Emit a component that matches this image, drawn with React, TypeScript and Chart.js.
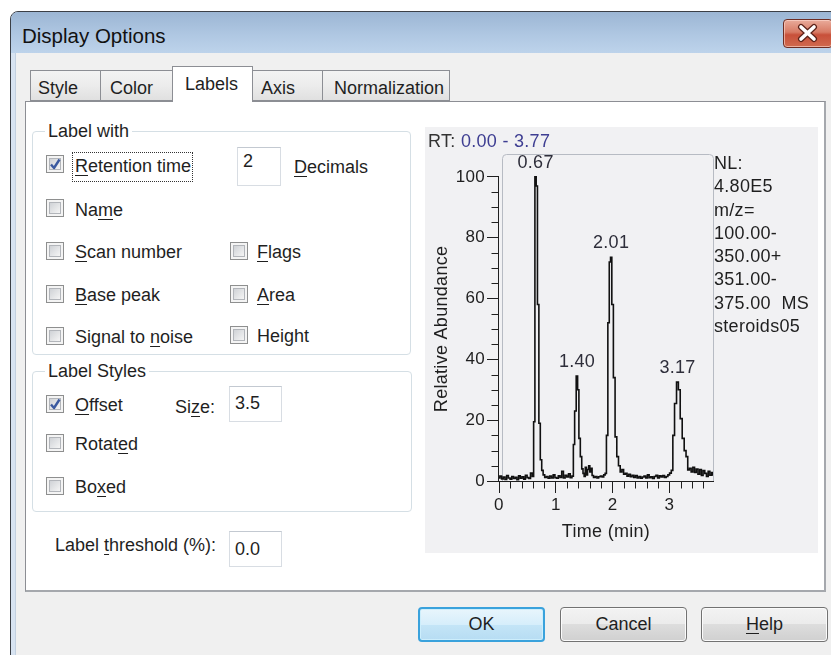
import React, { useEffect, useRef } from 'react';
import { Chart, registerables } from 'chart.js';

Chart.register(...registerables);

// ---------- chromatogram data ----------
const retentionTimes = [
  0.00, 0.03, 0.06, 0.09, 0.12, 0.15, 0.18, 0.21, 0.24, 0.27, 0.30, 0.33, 0.36, 0.39, 0.42, 0.45, 0.48, 0.51, 0.54, 0.57, 0.60,
  0.62, 0.645, 0.665, 0.69, 0.715, 0.74, 0.765, 0.79, 0.82, 0.85, 0.88, 0.91, 0.94, 0.97, 1.00, 1.03, 1.06, 1.09, 1.12, 1.15,
  1.18, 1.21, 1.24, 1.27, 1.30,
  1.32, 1.345, 1.375, 1.395, 1.42, 1.445, 1.47, 1.49, 1.51, 1.53, 1.55, 1.57, 1.59, 1.61, 1.63, 1.65, 1.68, 1.71, 1.74, 1.77,
  1.80, 1.83, 1.86,
  1.88, 1.905, 1.93, 1.955, 1.975, 2.00, 2.03, 2.06, 2.09, 2.12, 2.15, 2.18, 2.21, 2.24, 2.27, 2.30, 2.33, 2.36, 2.39, 2.42,
  2.45, 2.48, 2.51, 2.54, 2.57, 2.60, 2.63, 2.66, 2.69, 2.72, 2.75, 2.78, 2.81, 2.84, 2.87, 2.90, 2.93, 2.96, 2.99, 3.02, 3.05,
  3.075, 3.11, 3.145, 3.175, 3.21, 3.245, 3.28, 3.31, 3.34, 3.37, 3.40, 3.43, 3.46, 3.49, 3.52, 3.55, 3.58, 3.61, 3.64, 3.67,
  3.70, 3.73, 3.76, 3.77,
];
const relativeAbundance = [
  1.0, 1.6, 0.7, 1.3, 0.5, 1.8, 1.0, 0.6, 1.5, 0.8, 1.2, 0.4, 1.7, 0.9, 1.4, 0.6, 1.9, 1.1, 0.8, 2.6, 1.5,
  19.5, 100, 97, 58, 19, 7, 3.5, 2.0, 1.2, 1.5, 0.9, 1.6, 1.0, 2.0, 1.1, 0.9, 1.7, 1.2, 3.2, 1.0,
  1.9, 1.3, 2.4, 1.1, 1.6,
  12, 23, 34.5, 30, 14, 8, 4, 2.5, 1.5, 4.5, 2.0, 3.8, 5.0, 3.0, 4.2, 1.8, 1.2, 1.5, 1.0, 1.4,
  1.6, 1.3, 2.0,
  2.5, 15, 52, 72, 73.5, 58, 34, 14.5, 8, 5, 3, 3.8, 2.2, 2.5, 1.6, 2.2, 1.4, 1.9, 1.2, 1.8,
  1.0, 1.5, 0.9, 1.3, 1.6, 1.0, 2.0, 1.1, 1.4, 0.8, 1.5, 1.9, 1.0, 1.7, 1.3, 1.8, 1.2, 1.5, 2.0, 2.6, 3.5,
  15, 25.5, 32.5, 30, 20.5, 14, 10, 8, 3.6, 4.2, 3.0, 4.5, 2.8, 3.9, 2.2, 3.8, 1.8, 3.4, 2.5, 1.5,
  3.2, 1.9, 2.8, 2.0,
];

const peakApexTimes = [0.645, 1.375, 1.975, 3.145];
const peakApexHeights = [100, 34.5, 73.5, 32.5];
const peakLabels = ['0.67', '1.40', '2.01', '3.17'];

const xMajorTicks = [0, 1, 2, 3];
const xMinorTicks = [0.2, 0.4, 0.6, 0.8, 1.2, 1.4, 1.6, 1.8, 2.2, 2.4, 2.6, 2.8, 3.2, 3.4, 3.6];
const yMajorTicks = [0, 20, 40, 60, 80, 100];
const yMinorTicks = [5, 10, 15, 25, 30, 35, 45, 50, 55, 65, 70, 75, 85, 90, 95];

const rtPrefix = 'RT: ';
const rtRange = '0.00 - 3.77';
const infoLines = ['NL:', '4.80E5', 'm/z=', '100.00-', '350.00+', '351.00-', '375.00  MS', 'steroids05'];
const yTitle = 'Relative Abundance';
const xTitle = 'Time (min)';

const FONT = '"Liberation Sans", Arial, sans-serif';
const INK = '#1f1f1f';

const decorPlugin = {
  id: 'chromDecor',
  beforeDraw(chart: any) {
    try {
      (chart.ctx as any).letterSpacing = '0.3px';
    } catch (e) {
      /* ignore */
    }
  },
  beforeDatasetsDraw(chart: any) {
    const { ctx, chartArea: ca } = chart;
    ctx.save();
    ctx.strokeStyle = '#b7bbc3';
    ctx.lineWidth = 1;
    const l = Math.round(ca.left) + 3.5;
    const t = Math.round(ca.top) + 0.5;
    const r = Math.round(ca.right) + 0.5;
    const b = ca.bottom;
    const rad = 4;
    ctx.beginPath();
    ctx.moveTo(l, b);
    ctx.lineTo(l, t + rad);
    ctx.quadraticCurveTo(l, t, l + rad, t);
    ctx.lineTo(r - rad, t);
    ctx.quadraticCurveTo(r, t, r, t + rad);
    ctx.lineTo(r, b);
    ctx.stroke();
    ctx.restore();
  },
  afterDraw(chart: any) {
    const { ctx, chartArea: ca } = chart;
    const xs = chart.scales.x;
    const ys = chart.scales.y;
    ctx.save();
    ctx.strokeStyle = INK;
    ctx.lineWidth = 1;
    // y axis line (0 .. last major)
    const ax = Math.round(ca.left) - 0.5;
    ctx.beginPath();
    ctx.moveTo(ax, Math.round(ys.getPixelForValue(0)) + 0.5);
    ctx.lineTo(ax, Math.round(ys.getPixelForValue(yMajorTicks[yMajorTicks.length - 1])) - 0.5);
    ctx.stroke();
    // minor ticks
    ctx.beginPath();
    yMinorTicks.forEach((v) => {
      const py = Math.round(ys.getPixelForValue(v)) + 0.5;
      ctx.moveTo(ax - 7, py);
      ctx.lineTo(ax, py);
    });
    const by = Math.round(ca.bottom) + 0.5;
    xMinorTicks.forEach((v) => {
      const px = Math.round(xs.getPixelForValue(v)) + 0.5;
      ctx.moveTo(px, by);
      ctx.lineTo(px, by + 7);
    });
    ctx.stroke();

    // peak labels
    ctx.font = `18px ${FONT}`;
    ctx.fillStyle = '#2e2e3a';
    ctx.textAlign = 'center';
    ctx.textBaseline = 'middle';
    peakLabels.forEach((lab, i) => {
      ctx.fillText(lab, xs.getPixelForValue(peakApexTimes[i]), ys.getPixelForValue(peakApexHeights[i]) - 14);
    });

    // RT header
    ctx.textAlign = 'left';
    ctx.fillStyle = '#333';
    ctx.fillText(rtPrefix, 3, 15);
    const w = ctx.measureText(rtPrefix).width;
    ctx.fillStyle = '#3e3e92';
    ctx.fillText(rtRange, 3 + w, 15);

    // info lines
    ctx.fillStyle = INK;
    infoLines.forEach((line, i) => {
      ctx.fillText(line, ca.right + 1, ca.top + 10 + i * 23.3);
    });

    // y title
    ctx.translate(17, ys.getPixelForValue(50));
    ctx.rotate(-Math.PI / 2);
    ctx.textAlign = 'center';
    ctx.fillText(yTitle, 0, 0);
    ctx.restore();
  },
};

function Chromatogram() {
  const ref = useRef<HTMLCanvasElement | null>(null);
  useEffect(() => {
    if (!ref.current) return;
    const tickFont = { family: FONT, size: 17 };
    const titleFont = { family: FONT, size: 18 };
    const chart = new Chart(ref.current, {
      type: 'line',
      data: {
        datasets: [
          {
            data: retentionTimes.map((t, i) => ({ x: t, y: relativeAbundance[i] })),
            borderColor: '#111',
            borderWidth: 1.6,
            pointRadius: 0,
            fill: false,
            stepped: 'middle',
          } as any,
        ],
      },
      options: {
        animation: false,
        responsive: false,
        events: [],
        layout: { padding: { top: 27, right: 105, bottom: 0, left: 0 } },
        plugins: { legend: { display: false }, tooltip: { enabled: false }, title: { display: false } },
        scales: {
          x: {
            type: 'linear',
            min: 0,
            max: 3.77,
            afterBuildTicks: (s: any) => {
              s.ticks = xMajorTicks.map((v) => ({ value: v }));
            },
            afterFit: (s: any) => {
              s.height = 72;
            },
            grid: { drawOnChartArea: false, drawTicks: true, tickLength: 12, color: INK },
            border: { display: true, color: INK, width: 1 },
            ticks: { font: tickFont, color: INK, padding: 2, maxRotation: 0, autoSkip: false, callback: (v: any) => String(v) },
            title: { display: true, text: xTitle, font: titleFont, color: INK, padding: { top: 0, bottom: 10 } },
          },
          y: {
            type: 'linear',
            min: 0,
            max: 107.5,
            afterBuildTicks: (s: any) => {
              s.ticks = yMajorTicks.map((v) => ({ value: v }));
            },
            afterFit: (s: any) => {
              s.width = 74;
            },
            grid: { drawOnChartArea: false, drawTicks: true, tickLength: 12, color: INK },
            border: { display: false },
            ticks: { font: tickFont, color: INK, padding: 2, autoSkip: false, callback: (v: any) => String(v) },
            title: { display: false },
          },
        },
      } as any,
      plugins: [decorPlugin],
    });
    return () => chart.destroy();
  }, []);
  return <canvas ref={ref} width={393} height={426} style={{ display: 'block', width: 393, height: 426 }} />;
}

// ---------- dialog chrome ----------
const abs = (o: any) => ({ position: 'absolute', ...o }) as React.CSSProperties;

function U({ children }: { children: React.ReactNode }) {
  return <u style={{ textDecorationThickness: '1px', textUnderlineOffset: '3px' }}>{children}</u>;
}

function Txt({ x, yc, children, size = 18 }: any) {
  return (
    <div style={abs({ left: x, top: yc - 11, height: 22, lineHeight: '22px', fontSize: size, whiteSpace: 'nowrap' })}>
      {children}
    </div>
  );
}

function Check({ x, yc, checked }: any) {
  return (
    <div
      style={abs({
        left: x,
        top: yc - 10,
        width: 18,
        height: 18,
        border: '1px solid #8e8f8f',
        boxSizing: 'border-box',
        background: '#f4f4f4',
      })}
    >
      <div
        style={abs({
          left: 2,
          top: 2,
          width: 12,
          height: 12,
          border: '1px solid #b2b5ba',
          background: 'linear-gradient(135deg,#cfd2d6,#f5f5f5)',
          boxSizing: 'border-box',
        })}
      />
      {checked && (
        <svg width={16} height={16} style={abs({ left: 0, top: 0 })}>
          <path d="M4 8.5 L7 12 L12.5 3.5" stroke="#3b5aa0" strokeWidth={2.4} fill="none" strokeLinejoin="round" />
        </svg>
      )}
    </div>
  );
}

function Edit({ x, y, w, h, text, ty }: any) {
  return (
    <div
      style={abs({
        left: x,
        top: y,
        width: w,
        height: h,
        boxSizing: 'border-box',
        border: '1px solid #d8dde3',
        borderTopColor: '#c3c9d1',
        background: '#fff',
      })}
    >
      <div style={abs({ left: 5, top: ty, fontSize: 18, lineHeight: '22px' })}>{text}</div>
    </div>
  );
}

function Button({ x, label, primary }: any) {
  return (
    <div
      style={abs({
        left: x,
        top: 607,
        width: 127,
        height: 35,
        boxSizing: 'border-box',
        borderRadius: 4,
        border: primary ? '2px solid #3aa2dc' : '1px solid #727272',
        background: primary
          ? 'linear-gradient(#e8f5fc, #d6eefb 50%, #c4e5f7 50%, #b7ddf3)'
          : 'linear-gradient(#f3f3f3, #ebebeb 50%, #dddddd 50%, #d0d0d0)',
        boxShadow: primary ? 'inset 0 0 0 1px #cdeefc' : 'inset 0 0 0 1px #fbfbfb',
        textAlign: 'center',
        lineHeight: primary ? '31px' : '33px',
        fontSize: 18,
      })}
    >
      {label}
    </div>
  );
}

function Tab({ x, w, label, tx, selected }: any) {
  return (
    <div
      style={abs({
        left: x,
        top: selected ? 66 : 70,
        width: w,
        height: selected ? 36 : 31,
        boxSizing: 'border-box',
        border: '1px solid #8c8e94',
        borderBottom: selected ? 'none' : '1px solid #8c8e94',
        background: selected ? '#ffffff' : 'linear-gradient(#f3f3f3, #ececec 50%, #e0e0e0)',
        zIndex: selected ? 3 : 1,
      })}
    >
      <div style={abs({ left: tx, top: 6, fontSize: 18, lineHeight: '22px', whiteSpace: 'nowrap' })}>{label}</div>
    </div>
  );
}

function Group({ x, y, w, h, title }: any) {
  return (
    <>
      <div
        style={abs({
          left: x,
          top: y,
          width: w,
          height: h,
          boxSizing: 'border-box',
          border: '1px solid #d5dfe5',
          borderRadius: 4,
        })}
      />
      <div style={abs({ left: 45, top: y - 11, padding: '0 3px', background: '#fff', fontSize: 18, lineHeight: '22px' })}>{title}</div>
    </>
  );
}

export default function App() {
  return (
    <div
      style={{
        position: 'fixed',
        left: 0,
        top: 0,
        width: 831,
        height: 655,
        overflow: 'hidden',
        background: '#ffffff',
        fontFamily: FONT,
        color: INK,
      }}
    >
      {/* window frame */}
      <div
        style={abs({
          left: 10,
          top: 11,
          width: 900,
          height: 700,
          border: '1px solid #3b3f46',
          borderTopLeftRadius: 8,
          background: '#d7e3f1',
          boxSizing: 'border-box',
          overflow: 'hidden',
        })}
      >
        <div
          style={abs({
            left: 0,
            top: 0,
            right: 0,
            height: 41,
            background: 'linear-gradient(180deg, #9cb6d4 0%, #afc7e2 55%, #bdd3eb 100%)',
          })}
        />
        <div style={abs({ left: 11, top: 12, fontSize: 20.5, lineHeight: '24px', color: '#111', whiteSpace: 'nowrap' })}>
          Display Options
        </div>
        <div style={abs({ left: 4, top: 41, right: 0, bottom: 0, background: '#f0f0f0', borderLeft: '1px solid #c2d0e0' })} />
      </div>

      {/* close button */}
      <div
        style={abs({
          left: 783,
          top: 19,
          width: 50,
          height: 29,
          boxSizing: 'border-box',
          borderRadius: 4,
          border: '1px solid #6e2d23',
          background: 'linear-gradient(#e9ab9b, #d77a64 45%, #c8503a 55%, #d06a4f)',
          boxShadow: 'inset 0 0 0 1px rgba(255,220,210,0.6)',
        })}
      >
        <svg width={48} height={27} style={abs({ left: 0, top: 0 })}>
          <path d="M17 7 L30 19 M30 7 L17 19" stroke="#5b2219" strokeWidth={6} strokeLinecap="round" />
          <path d="M17 7 L30 19 M30 7 L17 19" stroke="#ffffff" strokeWidth={3.6} strokeLinecap="round" />
        </svg>
      </div>

      {/* tabs */}
      <Tab x={30} w={71} label="Style" tx={7} />
      <Tab x={100} w={73} label="Color" tx={9} />
      <Tab x={172} w={81} label="Labels" tx={12} selected />
      <Tab x={252} w={71} label="Axis" tx={8} />
      <Tab x={322} w={128} label="Normalization" tx={11} />

      {/* tab panel */}
      <div
        style={abs({
          left: 25,
          top: 101,
          width: 801,
          height: 491,
          boxSizing: 'border-box',
          border: '1px solid #8c8e94',
          borderRight: '2px solid #a5a8ad',
          borderBottom: '2px solid #a5a8ad',
          background: '#ffffff',
          zIndex: 2,
        })}
      />

      <div style={abs({ left: 0, top: 0, width: 831, height: 655, zIndex: 4 })}>
        <Group x={32} y={131} w={379} h={224} title="Label with" />
        <Check x={46} yc={165} checked />
        <div style={abs({ left: 72, top: 152, width: 121, height: 30, boxSizing: 'border-box', border: '1px dotted #333' })} />
        <Txt x={75} yc={166}>
          <U>R</U>etention time
        </Txt>
        <Edit x={237} y={147} w={44} h={39} text="2" ty={2} />
        <Txt x={294} yc={167}>
          <U>D</U>ecimals
        </Txt>

        <Check x={46} yc={209} />
        <Txt x={75} yc={210}>
          Na<U>m</U>e
        </Txt>
        <Check x={46} yc={252} />
        <Txt x={75} yc={252}>
          <U>S</U>can number
        </Txt>
        <Check x={230} yc={252} />
        <Txt x={257} yc={252}>
          <U>F</U>lags
        </Txt>
        <Check x={46} yc={295} />
        <Txt x={75} yc={295}>
          <U>B</U>ase peak
        </Txt>
        <Check x={230} yc={295} />
        <Txt x={257} yc={295}>
          <U>A</U>rea
        </Txt>
        <Check x={46} yc={337} />
        <Txt x={75} yc={337}>
          Signal to <U>n</U>oise
        </Txt>
        <Check x={230} yc={336} />
        <Txt x={257} yc={336}>
          Height
        </Txt>

        <Group x={32} y={371} w={380} h={141} title="Label Styles" />
        <Check x={46} yc={405} checked />
        <Txt x={75} yc={405}>
          <U>O</U>ffset
        </Txt>
        <Txt x={175} yc={407}>
          Si<U>z</U>e:
        </Txt>
        <Edit x={229} y={386} w={53} h={36} text="3.5" ty={5} />
        <Check x={46} yc={444} />
        <Txt x={75} yc={444}>
          Rotat<U>e</U>d
        </Txt>
        <Check x={46} yc={487} />
        <Txt x={75} yc={487}>
          Bo<U>x</U>ed
        </Txt>

        <Txt x={55} yc={545}>
          Label <U>t</U>hreshold (%):
        </Txt>
        <Edit x={229} y={531} w={53} h={36} text="0.0" ty={6} />

        <div style={abs({ left: 425, top: 127, width: 393, height: 426, background: '#f1f1f3' })}>
          <Chromatogram />
        </div>
      </div>

      <Button x={418} label="OK" primary />
      <Button x={560} label="Cancel" />
      <Button x={701} label={<><U>H</U>elp</>} />
    </div>
  );
}
